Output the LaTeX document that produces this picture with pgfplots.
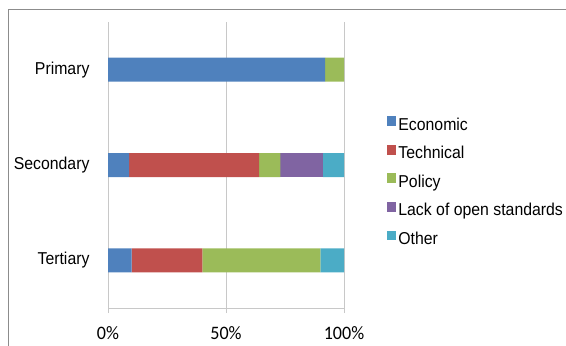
\documentclass[border=0pt]{standalone}
\usepackage{pgfplots}
\pgfplotsset{compat=1.18}
\usepackage{fontspec}
\setmainfont[FakeStretch=0.92]{Liberation Sans}
\newfontfamily\tickfont[FakeStretch=0.95]{Carlito}
\definecolor{cEco}{HTML}{4F81BD}
\definecolor{cTec}{HTML}{C0504D}
\definecolor{cPol}{HTML}{9BBB59}
\definecolor{cLack}{HTML}{8064A2}
\definecolor{cOth}{HTML}{4BACC6}
\definecolor{gridgray}{HTML}{C8C8C8}
\definecolor{framegray}{HTML}{8C8C8C}
\begin{document}
\begin{tikzpicture}[x=1bp,y=1bp]
\useasboundingbox (0,0) rectangle (566,345);
\draw[color=framegray, line width=1bp] (8,-2) -- (8,335) -- (570,335);
\begin{axis}[
  at={(108bp,37bp)}, anchor=south west,
  scale only axis, width=236bp, height=286bp,
  xbar stacked, bar width=24bp,
  xmin=0, xmax=100, ymin=0.5, ymax=3.5,
  ytick={1,2,3}, yticklabels={Tertiary,Secondary,Primary},
  xtick={0,50,100}, xticklabels={0\%,50\%,100\%},
  xmajorgrids, grid style={color=gridgray, line width=0.8bp},
  axis x line*=bottom, axis y line*=left,
  x axis line style={color=gridgray, line width=0.8bp, -},
  y axis line style={draw=none},
  ytick style={draw=none},
  xtick style={color=gridgray, line width=0.8bp},
  tick align=outside, major tick length=5bp,
  xticklabel style={font=\tickfont\fontsize{19bp}{22bp}\selectfont, yshift=-10bp},
  yticklabel style={font=\fontsize{17.2bp}{20bp}\selectfont, xshift=-10bp},
  legend style={draw=none, fill=none, inner sep=0pt,
    at={(1.183,0.668)}, anchor=north west,
    font=\fontsize{17.2bp}{20bp}\selectfont,
    nodes={inner ysep=0pt, inner xsep=2bp, text height=12.3bp, text depth=3bp},
    row sep=12.4bp},
  legend cell align=left,
  legend image code/.code={\path (0bp,-0.5bp) rectangle (9bp,8.5bp);
    \fill[#1, overlay] (0bp,0.3bp) rectangle (9bp,9.3bp);},
  every axis plot/.append style={draw=none},
]
\addplot[fill=cEco] coordinates {(10,1) (9,2) (92,3)};
\addplot[fill=cTec] coordinates {(30,1) (55,2) (0,3)};
\addplot[fill=cPol] coordinates {(50,1) (9,2) (8,3)};
\addplot[fill=cLack] coordinates {(0,1) (18,2) (0,3)};
\addplot[fill=cOth] coordinates {(10,1) (9,2) (0,3)};
\legend{Economic,Technical,Policy,Lack of open standards,Other}
\end{axis}
\end{tikzpicture}
\end{document}
